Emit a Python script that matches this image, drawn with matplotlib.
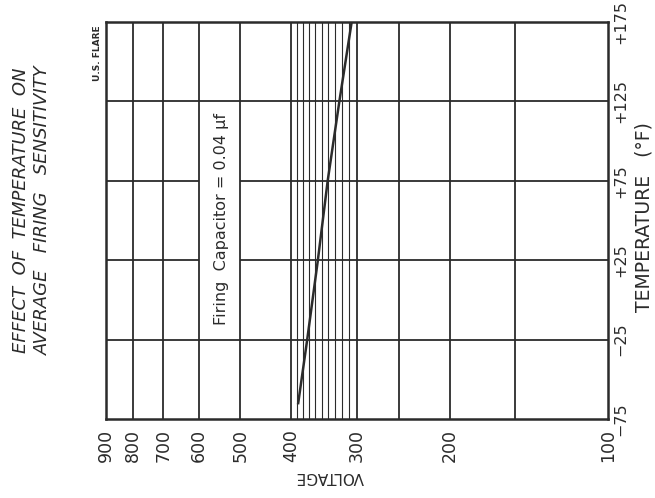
import matplotlib
matplotlib.use('Agg')
import matplotlib.pyplot as plt
from matplotlib.ticker import NullLocator, FixedLocator, FixedFormatter

# ---- data ----
volt_ticks = [900, 800, 700, 600, 500, 400, 300, 200, 100]
volt_tick_labels = ['900', '800', '700', '600', '500', '400', '300', '200', '100']
volt_major_grid = [800, 700, 600, 500, 400, 300, 250, 200, 150]
volt_fine_grid = [390, 380, 370, 360, 350, 340, 330, 320, 310]
temp_ticks = [-75, -25, 25, 75, 125, 175]
temp_tick_labels = ['\u221275', '\u221225', '+25', '+75', '+125', '+175']
temp_grid = [-25, 25, 75, 125]
temp_values = [-65, -25, 25, 75, 125, 175]
firing_voltage = [388, 373, 356, 341, 324, 307]

ink = '#2b2b2b'
plt.rcParams['font.family'] = ['DejaVu Sans']

fig = plt.figure(figsize=(6.55, 4.98), dpi=100)
fig.patch.set_facecolor('white')
ax = fig.add_axes([0.1618, 0.1586, 0.7664, 0.7978])
ax.set_xscale('log')
ax.set_xlim(900, 100)
ax.set_ylim(-75, 175)

# grid
for t in temp_grid:
    ax.axhline(t, color=ink, lw=1.3, zorder=1)
# white box behind the annotation
ax.axvspan(500, 600, ymin=0.21, ymax=0.785, color='white', lw=0, zorder=2)
for v in volt_major_grid:
    ax.axvline(v, color=ink, lw=1.3, zorder=3)
for v in volt_fine_grid:
    ax.axvline(v, color=ink, lw=0.8, zorder=3)

# data line
ax.plot(firing_voltage, temp_values, color=ink, lw=1.8, zorder=4)

ax.text(542, 51, 'Firing  Capacitor = 0.04 \u03bcf', rotation=90,
        ha='center', va='center', fontsize=11.5, color=ink, zorder=5)

# axes styling
for s in ax.spines.values():
    s.set_linewidth(1.8)
    s.set_color(ink)
ax.xaxis.set_major_locator(FixedLocator(volt_ticks))
ax.xaxis.set_major_formatter(FixedFormatter(volt_tick_labels))
ax.xaxis.set_minor_locator(NullLocator())
ax.set_yticks(temp_ticks)
ax.set_yticklabels(temp_tick_labels)
ax.tick_params(axis='x', length=0, pad=7, labelsize=12.5, labelrotation=90, colors=ink)
ax.tick_params(axis='y', length=0, pad=4, labelsize=11.5, labelrotation=90,
               labelleft=False, labelright=True, colors=ink)
for lbl in ax.get_yticklabels():
    lbl.set_verticalalignment('center')

# labels
fig.text(330 / 655, 1 - 476 / 498, 'VOLTAGE', rotation=180, ha='center', va='center',
         fontsize=11, color=ink)
fig.text(644 / 655, 1 - 217 / 498, 'TEMPERATURE   (\u00b0F)', rotation=90, ha='center',
         va='center', fontsize=13.5, color=ink)
fig.text(97 / 655, 1 - 53 / 498, 'U.S. FLARE', rotation=90, ha='center', va='center',
         fontsize=6.5, fontweight='bold', color=ink)
fig.text(21 / 655, 1 - 210 / 498, 'EFFECT  OF  TEMPERATURE  ON', rotation=90,
         ha='center', va='center', fontsize=13, style='italic', color=ink)
fig.text(43 / 655, 1 - 210 / 498, 'AVERAGE   FIRING   SENSITIVITY', rotation=90,
         ha='center', va='center', fontsize=13, style='italic', color=ink)

fig.savefig('out.png', dpi=100)
